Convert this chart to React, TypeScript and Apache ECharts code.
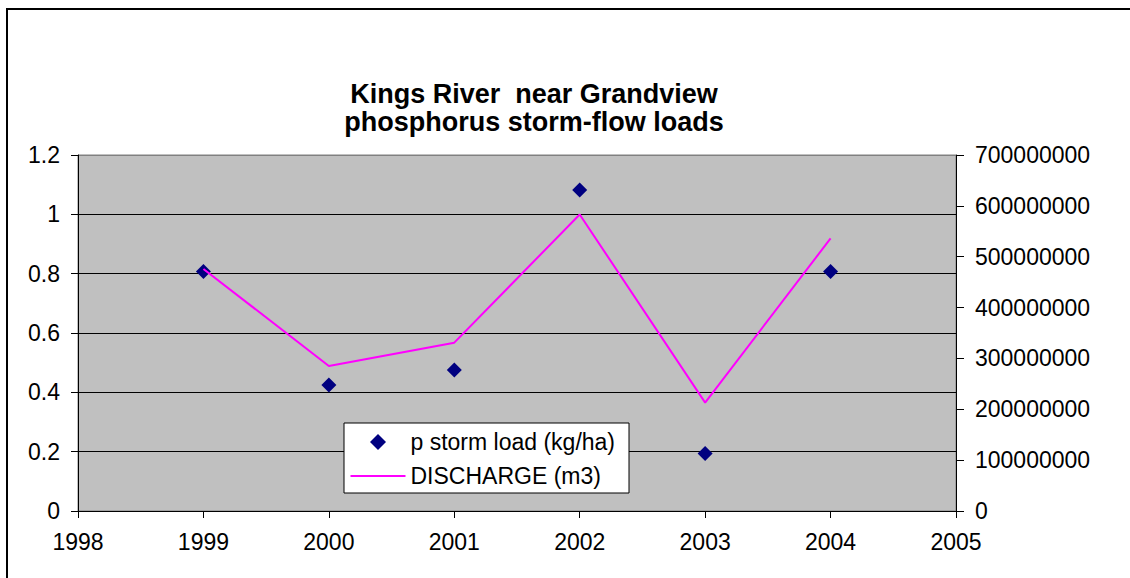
import React, { useEffect, useRef } from "react";
import * as echarts from "echarts";

const titleLines = ["Kings River  near Grandview", "phosphorus storm-flow loads"];
const seriesNames = ["p storm load (kg/ha)", "DISCHARGE (m3)"];
const years = [1999, 2000, 2001, 2002, 2003, 2004];
const pStormLoad = [0.807, 0.425, 0.475, 1.082, 0.194, 0.807];
const discharge = [476000000, 285000000, 331000000, 583000000, 213000000, 536000000];
const yearAxis = { min: 1998, max: 2005, interval: 1 };
const loadAxis = { min: 0, max: 1.2, interval: 0.2 };
const dischargeAxis = { min: 0, max: 700000000, interval: 100000000 };

const FONT = "'Liberation Sans', Arial, Helvetica, sans-serif";

export default function App() {
  const ref = useRef<HTMLDivElement>(null);
  useEffect(() => {
    const chart = echarts.init(ref.current!, null, { renderer: "svg" });
    chart.setOption({
      animation: false,
      textStyle: { fontFamily: FONT },
      grid: {
        left: 70,
        top: 145,
        width: 878,
        height: 356,
        show: true,
        backgroundColor: "#c0c0c0",
        borderColor: "#808080",
        borderWidth: 1,
      },
      graphic: [
        {
          type: "rect",
          z: 3,
          shape: { x: 336, y: 413, width: 285, height: 70 },
          style: { fill: "#ffffff", stroke: "#000000", lineWidth: 1 },
        },
        {
          type: "text",
          x: 526,
          y: 84,
          z: 5,
          style: {
            text: titleLines[0],
            fontFamily: FONT,
            fontSize: 27,
            fontWeight: "bold",
            fill: "#000",
            align: "center",
            verticalAlign: "middle",
          },
        },
        {
          type: "text",
          x: 526,
          y: 112,
          z: 5,
          style: {
            text: titleLines[1],
            fontFamily: FONT,
            fontSize: 27,
            fontWeight: "bold",
            fill: "#000",
            align: "center",
            verticalAlign: "middle",
          },
        },
      ],
      legend: [
        {
          orient: "vertical",
          left: 362,
          top: 420,
          padding: 0,
          z: 6,
          itemWidth: 16,
          itemHeight: 16,
          selectedMode: false,
          textStyle: {
            fontSize: 23,
            color: "#000",
            lineHeight: 24,
            fontFamily: FONT,
            padding: [0, 0, 0, 19.5],
          },
          data: [{ name: seriesNames[0], icon: "diamond" }],
        },
        {
          orient: "vertical",
          left: 342.5,
          top: 454,
          padding: 0,
          z: 6,
          itemWidth: 55,
          itemHeight: 2,
          selectedMode: false,
          textStyle: { fontSize: 23, color: "#000", lineHeight: 24, fontFamily: FONT },
          data: [{ name: seriesNames[1], icon: "rect" }],
        },
      ],
      xAxis: {
        type: "value",
        min: yearAxis.min,
        max: yearAxis.max,
        interval: yearAxis.interval,
        axisLine: { show: true, lineStyle: { color: "#000", width: 1 } },
        axisTick: { show: true, length: 7, lineStyle: { color: "#000" } },
        axisLabel: { fontSize: 23, color: "#000", margin: 19, formatter: (v: number) => String(v) },
        splitLine: { show: false },
      },
      yAxis: [
        {
          type: "value",
          position: "left",
          min: loadAxis.min,
          max: loadAxis.max,
          interval: loadAxis.interval,
          axisLine: { show: true, lineStyle: { color: "#000", width: 1 } },
          axisTick: { show: true, length: 7, lineStyle: { color: "#000" } },
          axisLabel: {
            fontSize: 23,
            color: "#000",
            margin: 18,
            formatter: (v: number) => String(Math.round(v * 10) / 10),
          },
          splitLine: {
            show: true,
            lineStyle: { color: ["#000", "#000", "#000", "#000", "#000", "#000", "#808080"], width: 1 },
          },
        },
        {
          type: "value",
          position: "right",
          min: dischargeAxis.min,
          max: dischargeAxis.max,
          interval: dischargeAxis.interval,
          axisLine: { show: true, lineStyle: { color: "#000", width: 1 } },
          axisTick: { show: true, length: 8, lineStyle: { color: "#000" } },
          axisLabel: { fontSize: 23, color: "#000", margin: 19, formatter: (v: number) => String(v) },
          splitLine: { show: false },
        },
      ],
      series: [
        {
          name: seriesNames[0],
          type: "scatter",
          yAxisIndex: 0,
          data: years.map((y, i) => [y, pStormLoad[i]]),
          symbol: "diamond",
          symbolSize: 15,
          itemStyle: { color: "#000080", opacity: 1 },
        },
        {
          name: seriesNames[1],
          type: "line",
          yAxisIndex: 1,
          data: years.map((y, i) => [y, discharge[i]]),
          symbol: "none",
          showSymbol: false,
          lineStyle: { color: "#ff00ff", width: 2 },
          itemStyle: { color: "#ff00ff" },
        },
      ],
    });
    return () => chart.dispose();
  }, []);
  return (
    <div
      style={{
        position: "absolute",
        left: 6,
        top: 8,
        width: 1124,
        height: 570,
        boxSizing: "border-box",
        borderTop: "2px solid #000",
        borderLeft: "2px solid #000",
        background: "#fff",
      }}
    >
      <div ref={ref} style={{ position: "absolute", left: 0, top: 0, width: 1122, height: 568 }} />
    </div>
  );
}
